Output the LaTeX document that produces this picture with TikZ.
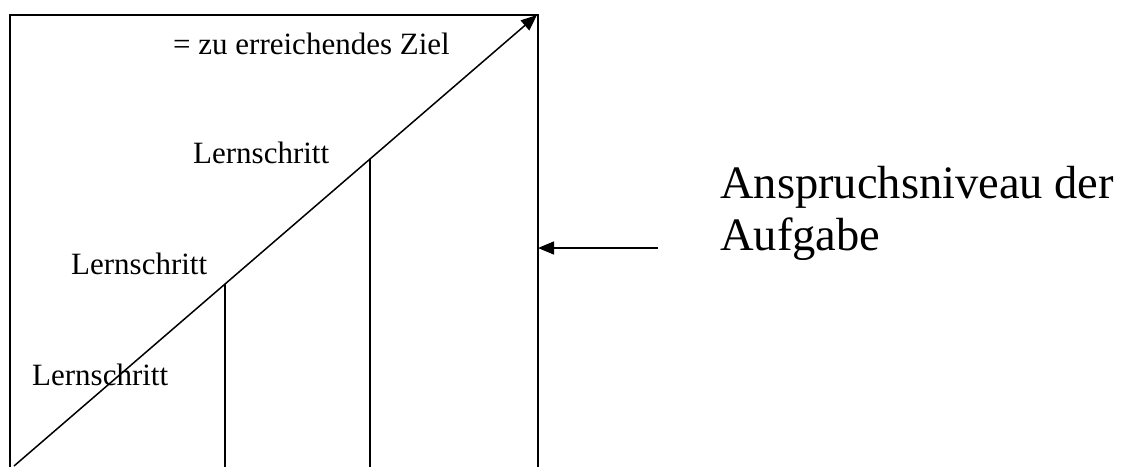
\documentclass[tikz,border=0pt]{standalone}
\usepackage{fontspec}
\setmainfont{Liberation Serif}
\usetikzlibrary{arrows.meta}
\begin{document}
\begin{tikzpicture}[x=1pt,y=-1pt,
  frame/.style={line width=1.7pt},
  conn/.style={line width=1.5pt},
  tip/.style={-{Triangle[length=16pt,width=13pt]}},
  small/.style={inner sep=0pt,anchor=base west,font=\fontsize{31}{36}\selectfont},
  big/.style={inner sep=0pt,anchor=base west,font=\fontsize{46.5}{52}\selectfont}]
\useasboundingbox (0,0) rectangle (1132,466);
\clip (0,0) rectangle (1132,466);
% frame (open at bottom)
\coordinate (fl) at (10,470);
\coordinate (ftl) at (10,15);
\coordinate (ftr) at (538,15);
\coordinate (fr) at (538,470);
\draw[frame] (fl) -- (ftl) -- (ftr) -- (fr);
% diagonal
\coordinate (bl) at (14,466);
\coordinate (tr) at (537,15);
\draw[conn,tip] (bl) -- (tr);
% vertical steps
\coordinate (s1) at (225,284);
\coordinate (b1) at (225,470);
\coordinate (s2) at (370,159);
\coordinate (b2) at (370,470);
\draw[conn] (s1) -- (b1);
\draw[conn] (s2) -- (b2);
% labels
\node[small] (goal) at (173,54) {= zu erreichendes Ziel};
\node[small] (l3) at (193,163) {Lernschritt};
\node[small] (l2) at (71,274) {Lernschritt};
\node[small] (l1) at (32,385) {Lernschritt};
\node[big] (a1) at (720,198) {Anspruchsniveau der};
\node[big] (a2) at (720,250) {Aufgabe};
% arrow
\coordinate (as) at (658,248);
\coordinate (ae) at (538,248);
\draw[conn,tip] (as) -- (ae);
\end{tikzpicture}
\end{document}
